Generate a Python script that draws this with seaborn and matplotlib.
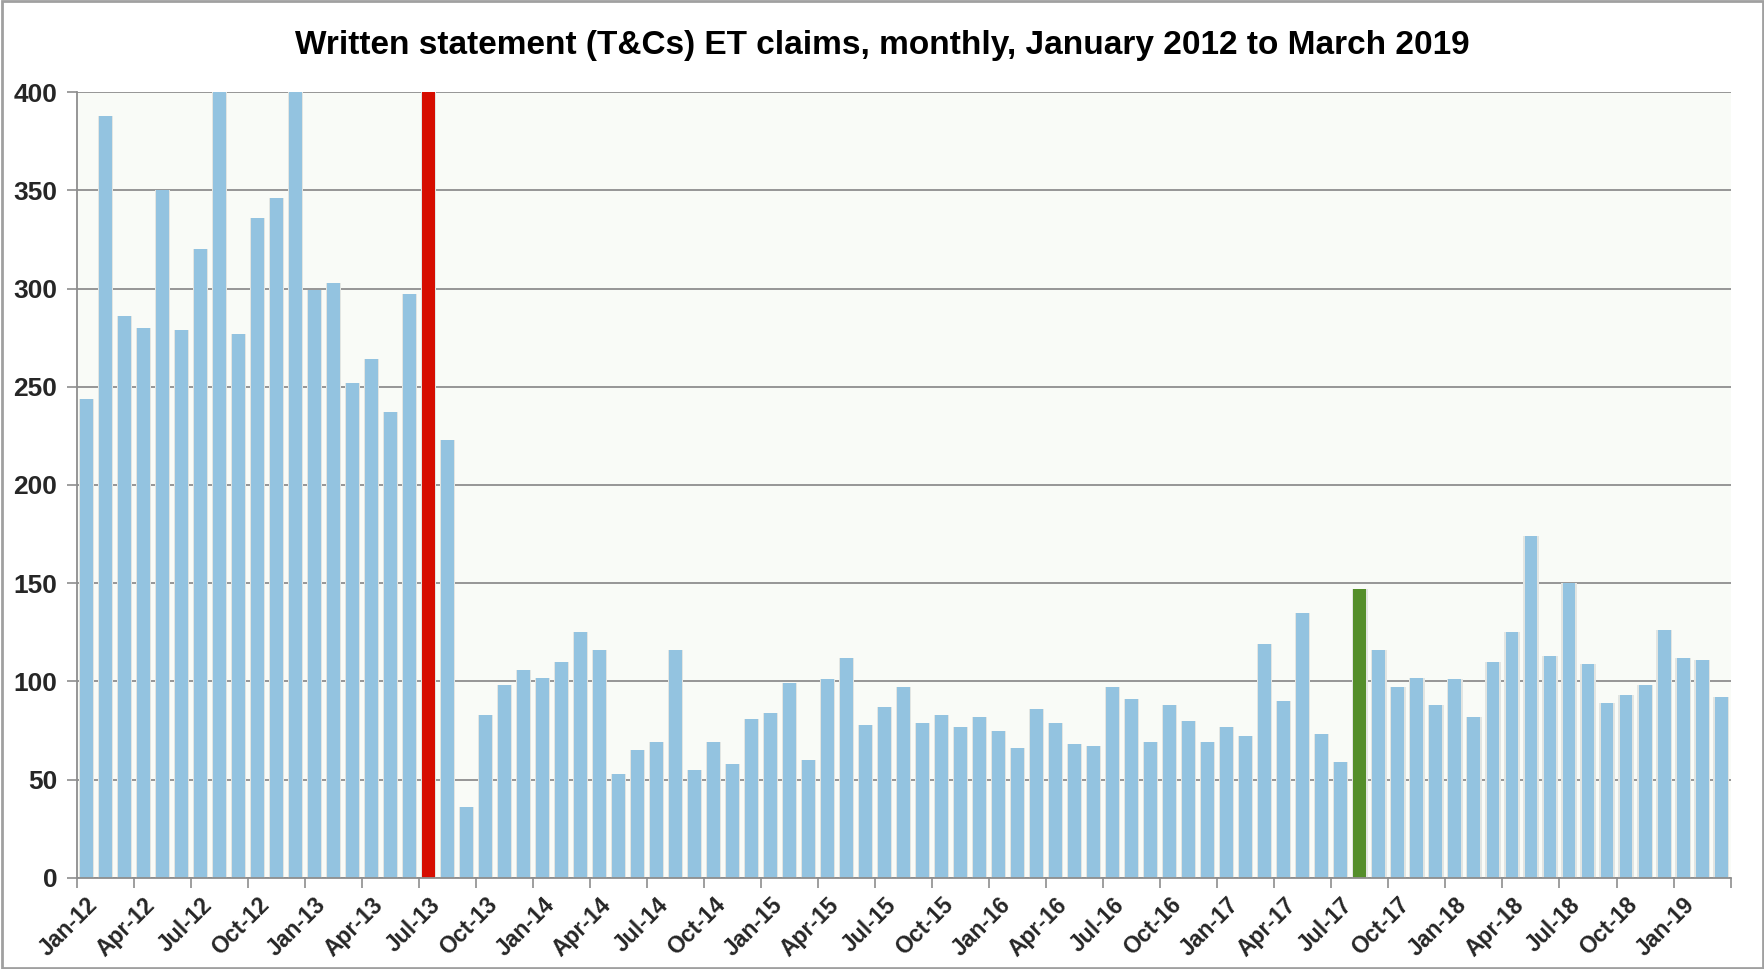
import matplotlib
matplotlib.use("Agg")
import matplotlib.pyplot as plt
import seaborn as sns
import numpy as np
import pandas as pd
from matplotlib.patches import Rectangle

# ---------------- data ----------------
months = ["Jan", "Feb", "Mar", "Apr", "May", "Jun", "Jul", "Aug", "Sep", "Oct", "Nov", "Dec"]
years = ["12", "13", "14", "15", "16", "17", "18", "19"]
labels = [f"{m}-{y}" for y in years for m in months][:87]

v2012 = [244, 388, 286, 280, 350, 279, 320, 412, 277, 336, 346, 408]
v2013 = [299, 303, 252, 264, 237, 297, 470, 223, 36, 83, 98, 106]
v2014 = [102, 110, 125, 116, 53, 65, 69, 116, 55, 69, 58, 81]
v2015 = [84, 99, 60, 101, 112, 78, 87, 97, 79, 83, 77, 82]
v2016 = [75, 66, 86, 79, 68, 67, 97, 91, 69, 88, 80, 69]
v2017 = [77, 72, 119, 90, 135, 73, 59, 147, 116, 97, 102, 88]
v2018 = [101, 82, 110, 125, 174, 113, 150, 109, 89, 93, 98, 126]
v2019 = [112, 111, 92]
values = v2012 + v2013 + v2014 + v2015 + v2016 + v2017 + v2018 + v2019

highlight_red = "Jul-13"
highlight_green = "Aug-17"

title = "Written statement (T&Cs) ET claims, monthly, January 2012 to March 2019"

# ---------------- style ----------------
sns.set_theme(style="white")
plt.rcParams["font.family"] = ["Liberation Sans", "DejaVu Sans"]

BLUE = "#93C3E0"
RED = "#D60D00"
GREEN = "#548E2A"
GRID = "#8E8E8E"

df = pd.DataFrame({"month": labels, "claims": values})
colors = {lab: BLUE for lab in labels}
colors[highlight_red] = RED
colors[highlight_green] = GREEN

fig = plt.figure(figsize=(17.65, 9.69), dpi=100)
ax = fig.add_axes([0.0435, 0.094, 0.937, 0.811])
ax.set_facecolor("#F9FBF7")

# soft shadow behind the bars
sns.barplot(data=df, x="month", y="claims", color="#E2E5E2", width=0.80,
            ax=ax, order=labels, zorder=2, saturation=1, linewidth=0)
sns.barplot(data=df, x="month", y="claims", hue="month", palette=colors,
            width=0.68, ax=ax, order=labels, legend=False, zorder=3,
            saturation=1, linewidth=0)

ax.set_ylim(0, 400)
ax.set_xlim(-0.5, len(labels) - 0.5)
ax.set_yticks(np.arange(0, 401, 50))
ax.yaxis.grid(True, color=GRID, linewidth=1.3, zorder=1)
ax.xaxis.grid(False)
ax.set_axisbelow(True)

# x labels every 3 months, ticks at category boundaries
pos = np.arange(0, len(labels), 3)
ax.set_xticks(pos)
ax.set_xticklabels([labels[i] for i in pos], rotation=45, ha="right",
                   rotation_mode="anchor", fontsize=16.5, fontweight="bold")
ax.set_xticks(np.arange(-0.5, len(labels), 3), minor=True)
ax.tick_params(axis="x", which="major", length=0, pad=11)
ax.tick_params(axis="x", which="minor", length=7, width=1.2, color=GRID,
               direction="out", bottom=True)
ax.tick_params(axis="y", length=7, width=1.2, color=GRID, left=True,
               labelsize=19, pad=7)
for t in ax.get_yticklabels():
    t.set_fontweight("bold")
ax.set_xlabel("")
ax.set_ylabel("")

for s in ["top", "right"]:
    ax.spines[s].set_visible(False)
for s in ["left", "bottom"]:
    ax.spines[s].set_color(GRID)
    ax.spines[s].set_linewidth(1.3)
    ax.spines[s].set_zorder(4)

fig.text(0.5, 0.953, title, ha="center", va="center", fontsize=24,
         fontweight="bold", color="black")

# figure border
fig.patches.append(Rectangle((0.001, 0.001), 0.998, 0.998, transform=fig.transFigure,
                             fill=False, edgecolor="#A0A0A0", linewidth=2))

fig.savefig("out.png", dpi=100)
